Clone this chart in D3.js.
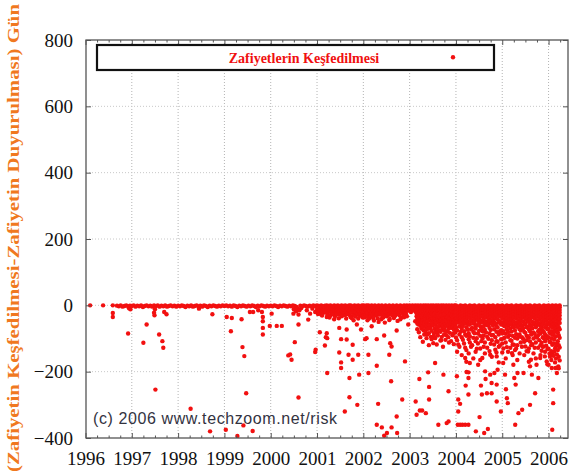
<!DOCTYPE html>
<html>
<head>
<meta charset="utf-8">
<script src="https://cdn.jsdelivr.net/npm/d3@7"></script>
<style>
body{margin:0;background:#fff}
svg{display:block}
</style>
</head>
<body>
<div class="chart"></div>
<script>
// tick labels
const yearTicks = [1996,1997,1998,1999,2000,2001,2002,2003,2004,2005,2006]
const dayTicks = [-400,-200,0,200,400,600,800]

// points per year: [hundredths of the year, days, days, ...]
const d1996 = [[10,0],[38,0],[59,0,-23,-35],[68,-1],[72,-3],[76,0],[80,-4],[84,-2],[88,0],[92,-3,-85],[94,-9],[96,-1],[97,-12]]
const d1997 = [[0,-2],[4,0],[8,-4],[12,-1],[16,-3],[20,0],[24,-5],[25,-113],[28,-2],[32,0,-58],[36,-3],[40,-1],[44,-4],[48,0,-22],[49,-30],[50,-12],[51,-254],[52,-3],[56,0],[59,-88],[60,-4],[64,-1],[66,-108],[68,-3,-128],[70,-20],[72,0],[75,-27],[76,-4],[80,-2],[84,0],[88,-3],[92,-1],[96,-4]]
const d1998 = [[0,-1],[4,-3],[8,0],[12,-2],[16,-5],[20,-1],[24,-3],[27,-312],[28,0],[32,-4],[36,-2],[40,0],[44,-3],[45,-10],[48,-1],[52,-4],[56,0],[60,-2],[64,-5],[68,-1],[69,-380],[72,-3],[74,-27],[76,0],[80,-2],[84,-4],[88,-1],[92,-3],[96,0]]
const d1999 = [[0,-2],[3,-375],[4,0],[5,-35],[8,-3],[12,-1],[14,-78],[16,-4,-38],[20,0],[24,-2],[28,-5,-394],[32,-1],[36,-3],[37,-42],[39,-126],[40,0],[41,-362],[43,-153],[44,-2],[47,-265],[48,-4],[52,-1],[55,-20],[56,-3],[60,0],[61,-379],[62,-20],[64,-2],[68,-5],[72,-1],[73,-15],[76,-3],[80,0],[81,-20],[83,-35,-48,-68,-88],[84,-2],[88,-4],[92,-1],[96,-3],[98,-62]]
const d2000 = [[0,-1],[2,-25],[4,-3],[8,0],[12,-2],[13,-62],[16,-5],[20,-1],[24,-3,-62],[28,0],[32,-2],[36,-4],[38,-151],[40,-1],[42,-148],[44,-3],[45,-164],[48,0],[49,-25],[50,-12],[52,-2,-111],[55,-18],[56,-5],[58,-10],[60,-28,-58,-278],[62,-15],[64,-1],[66,-8],[68,-3],[72,0],[76,-2],[78,-15],[80,-4],[81,-43],[84,-1],[85,-25],[88,-3],[90,-10],[92,0],[96,-2,-20,-141],[97,-134]]
const d2001 = [[0,0,-6,-14],[2,-5,-17,-26],[4,-2,-10,-20],[6,-81],[6.5,-3,-12,-24],[9,0,-7,-16,-28],[11,-6,-19,-31],[13,-3,-11],[15,-4,-14,-22],[17,-1,-8,-18,-121],[19,-7,-21,-96],[21,0,-5,-14,-35,-84],[22,-99,-204],[23,-5,-12,-28],[25,-2,-9,-19],[27,-3,-16,-37],[29,0,-6,-13,-30],[31,-8,-20],[33,-3,-10,-22],[35,-5,-13,-27],[37,0,-7,-15,-42],[39,-4,-18,-33],[41,-2,-11,-19],[43,-7,-15,-24],[45,0,-5,-13,-26],[47,-5,-20,-39],[48,-68,-142],[49,-3,-9,-18],[51,-3,-12,-27],[52,-102,-172,-189],[53,0,-6,-15,-33],[55,-6,-17,-31],[57,-2,-10,-21],[59,-4,-14,-23],[60,-320],[61,0,-7,-14,-29],[63,-8,-19,-40],[64,-73,-103],[65,-3,-11,-24],[67,-5,-12,-27],[68,-149],[69,0,-6,-16],[70,-219,-277],[71,-3,-15,-30],[73,0,-9,-20,-36],[75,-6,-22,-38],[77,-3,-12,-119,-164],[79,-4,-13,-29,-45],[81,0,-7,-17,-30],[83,-7,-19,-34],[85,-2,-10,-22],[86,-58],[87,-5,-12,-26,-300],[89,0,-6,-15,-40,-149],[91,-3,-17,-31,-209],[93,-3,-11,-24],[95,-6,-14,-24,-73],[97,0,-8,-18,-33],[99,-4,-20,-37]]
const d2002 = [[1,0,-7,-16,-31],[3,-6,-21,-36],[4,-3,-12,-102],[5.5,-4,-15,-27],[7,0,-20,-99],[9,-5,-14,-45],[9.5,-22,-34],[11,0,-9,-149,-204],[12.5,-5,-14,-40],[14,-3,-18,-28],[16,-7,-25,-33],[18,0,-10,-22,-63],[19.5,-4,-12,-29],[21,-5,-15,-38],[23,-6,-23,-46],[25,0,-8,-19],[27,-4,-16,-31],[29,-3,-12,-26,-102,-182,-360],[31,-7,-21,-39],[32,-297],[33,0,-7,-17,-50],[35,-5,-13,-28],[37,-4,-14,-24],[39,-3,-18,-42],[40,0,-9,-368],[41,-20,-35],[43,-6,-24,-37],[45,-3,-12,-91,-393],[46.5,-4,-14,-52],[48,0,-7,-18,-30],[50,-7,-20,-33],[51,-385],[52,-3,-11,-22],[54,-5,-15,-29],[56,0,-8,-44,-149],[57,-3,-25,-41],[58,-16,-114],[60,-3,-12,-25,-229],[61,-124,-368],[62,-6,-14,-30],[64,0,-7,-18],[66,-4,-22,-38],[68,-4,-13,-33],[70,-7,-15,-27],[72,0,-9,-20,-76,-335],[73,-385],[74,-5,-19,-47],[76,-3,-14,-27],[78,-3,-12,-30],[80,0,-8,-17,-42],[82,-6,-18,-37],[84,-4,-11,-22,-284],[86,-4,-14,-26],[88,0,-9,-19,-36],[90,-7,-21,-169],[92,-3,-13,-25],[94,0,-8,-33],[95,-5,-13],[97,-4,-16,-58],[99,-3,-10]]
const d2003 = [[0,0,-7,-15],[3,-3,-11,-20],[6,0,-8],[9,-4,-14],[12,0,-7,-18,-48],[13,-290],[15,-2,-10,-24,-33,-330],[16.5,-38,-55,-72],[18,0,-8,-16,-28,-40],[19,-58],[20,-47,-81],[21,-4,-12,-22,-36,-222],[22,-317],[23,-41,-58,-96],[24,0,-7,-17,-30,-45,-62],[25.5,-27,-49,-70],[27,-3,-11,-21,-34,-52,-317],[28.5,-44,-63,-110],[30,0,-8,-16,-27,-41,-75],[31.5,-33,-56,-88],[33,-4,-12,-23,-36,-50],[34,-42,-78],[35,0,-7,-18,-30,-66,-325],[36.5,-25,-51,-62,-99],[38,-3,-13,-25,-40,-88],[39,-46,-71],[40,0,-9,-19,-33,-202],[41.5,-38,-57,-84,-120],[42,-246,-284],[43,-4,-14,-27,-46,-60],[44.5,-35,-69],[46,0,-8,-18,-31,-42,-95],[47.5,-50,-77,-102],[49,-3,-12,-24,-37,-55],[50,-40,-61],[51,0,-7,-17,-29,-114],[52.5,-47,-85,-93],[54,-4,-14,-25,-39,-70],[55,-99,-174],[56,-42,-58,-78],[57,0,-9,-19,-32,-48],[58.5,-52,-66,-118],[60,-3,-12,-22,-35,-82],[61,-39,-72,-91],[62,0,-8,-17,-28,-44,-360],[63.5,-50,-63],[65,-4,-13,-24,-37,-58],[66.5,-45,-80,-106],[68,0,-7,-18,-30,-41,-105],[69.5,-56,-74,-95],[71,-3,-11,-21,-34,-50,-66],[72,-38,-61,-125],[73,0,-9,-19,-28,-209],[74.5,-49,-68,-88],[76,-4,-13,-25,-38,-77],[77.5,-44,-57,-104],[79,0,-8,-17,-31,-46,-90],[80,-355],[80.5,-36,-62,-79],[82,-3,-12,-22,-35,-52],[83.5,-59,-71,-96],[84,-259,-350],[85,0,-7,-19,-29,-42,-112],[86.5,-48,-83],[88,-4,-14,-26,-40,-61],[89.5,-55,-68,-108],[91,0,-9,-18,-32,-47],[92.5,-41,-64,-90],[94,-3,-12,-23,-36,-55,-85],[95.5,-50,-73,-117],[97,0,-8,-20,-30,-44],[98.5,-58,-82]]
const d2004 = [[0,0,-7,-14,-22,-30,-41,-66,-97],[2,-214],[2.5,-48,-75,-105,-140],[4,-360],[5,-3,-10,-18,-26,-35,-52,-118,-284,-320],[7.5,-42,-63,-88,-125],[9,-297,-360],[10,0,-6,-13,-21,-29,-38,-47,-80],[12.5,-55,-70,-96,-150],[14,-360],[15,-2,-9,-17,-25,-33,-44,-62,-104],[17.5,-50,-78,-115],[20,0,-7,-15,-23,-31,-40,-55,-88,-128,-159,-360],[21,-242],[22.5,-46,-66,-92,-135,-170],[23,-201],[25,-3,-11,-19,-27,-36,-49,-73],[27,-202,-219,-269,-360],[27.5,-58,-84,-102,-145],[30,0,-6,-14,-22,-30,-39,-58,-93,-112,-174],[32.5,-48,-72,-125],[35,-2,-10,-18,-26,-34,-45,-68,-120],[37.5,-55,-80,-98,-160],[40,0,-7,-15,-23,-32,-42,-51,-84],[42.5,-62,-70,-108,-140],[43,-380],[45,-3,-11,-19,-28,-37,-60,-99,-131],[47.5,-45,-85,-115],[48,-179],[50,0,-6,-14,-22,-31,-40,-53,-77],[51,-337],[52.5,-63,-92,-130,-165],[54,-242],[55,-2,-9,-17,-25,-34,-46,-70,-108],[56,-269],[57,-159],[57.5,-52,-78,-100],[60,0,-7,-15,-24,-33,-43,-64,-91,-125],[61,-385],[62.5,-55,-74,-112,-145],[63,-199],[64,-222],[65,-3,-10,-18,-27,-36,-50,-82],[67,-265],[67.5,-60,-95,-128],[69,-373],[70,0,-6,-14,-22,-30,-41,-57,-101],[72.5,-48,-68,-85,-138],[74,-149,-209],[75,-2,-9,-17,-25,-35,-47,-74,-116],[77,-234,-265],[77.5,-56,-90,-105,-155],[80,0,-7,-15,-23,-32,-44,-61,-89],[82.5,-50,-72,-118],[83,-204],[85,-3,-11,-19,-28,-38,-54,-96,-134],[87.5,-62,-80,-108,-142],[88,-154,-239,-290],[90,0,-6,-14,-22,-31,-42,-67,-110,-194],[92.5,-52,-88,-125,-172],[95,-2,-10,-18,-26,-34,-48,-79,-121],[97,-320],[97.5,-58,-75,-102]]
const d2005 = [[0,0,-7,-15,-23,-31,-40,-52,-85,-115,-142],[2,-174],[2.5,-60,-78,-100,-130],[5,-3,-10,-18,-26,-35,-46,-63,-98],[6,-209],[7.5,-55,-86,-112,-160],[8,-253],[10,0,-6,-14,-22,-30,-39,-50,-72,-126,-280],[12,-295],[12.5,-62,-80,-95,-140],[15,-2,-9,-17,-25,-34,-44,-58,-90],[17.5,-52,-70,-105,-128],[20,0,-7,-15,-24,-32,-42,-55,-79,-107],[21,-144],[22.5,-63,-92,-118,-150],[24,-179],[25,-3,-11,-19,-27,-36,-48,-66,-119],[26,-219],[27.5,-58,-76,-98,-135],[28,-360],[29,-239],[30,0,-6,-14,-22,-31,-40,-53,-87,-130],[32.5,-65,-100,-120,-165],[33,-204],[35,-2,-10,-18,-26,-34,-45,-61,-95,-325],[37.5,-52,-72,-88,-145],[40,0,-7,-15,-23,-32,-43,-57,-76,-112],[42.5,-64,-96,-125],[43,-315],[45,-3,-11,-19,-28,-37,-49,-70,-101],[46,-204],[47.5,-58,-80,-110,-150],[50,0,-6,-14,-22,-30,-41,-54,-83,-124],[52.5,-66,-92,-105,-138],[55,-2,-9,-17,-25,-35,-46,-64,-93],[56,-139],[57.5,-50,-72,-98,-130,-170],[60,0,-7,-15,-24,-33,-42,-59,-78,-109,-184,-300],[62,-164],[62.5,-64,-88,-120],[64,-209],[65,-3,-10,-18,-27,-36,-50,-69,-117],[67.5,-57,-82,-100,-145],[70,0,-6,-14,-22,-31,-40,-52,-86,-128],[71,-265],[72.5,-66,-95,-112,-160],[74,-179],[75,-2,-9,-17,-25,-34,-45,-60,-97],[77.5,-54,-78,-90,-128],[78,-219],[80,0,-7,-15,-23,-32,-43,-56,-74,-105],[82,-159],[82.5,-62,-85,-120,-150],[85,-3,-11,-19,-28,-37,-48,-67,-113,-137],[87.5,-58,-76,-96,-125],[89,-124],[90,0,-6,-14,-22,-30,-41,-53,-81,-99],[92,-154],[92.5,-66,-88,-108,-140],[95,-2,-10,-18,-26,-35,-46,-62,-92,-122],[96,-169],[97.5,-55,-72,-100,-132,-178]]
const d2006 = [[0,0,-7,-15,-23,-31,-40,-52,-71,-96,-131,-179],[2,-58,-82,-110,-145],[3,-154],[4,-3,-10,-18,-27,-36,-47,-60,-84,-111],[6,-64,-78,-100,-138,-165],[7,-189],[8,0,-6,-14,-22,-30,-39,-51,-66,-89,-119,-148,-375],[10,-56,-86,-115,-152,-254,-295],[12,-2,-9,-17,-25,-34,-44,-57,-76,-103,-140],[14,-62,-80,-95,-130,-172],[15,-189],[16,0,-7,-15,-24,-32,-42,-54,-69,-93,-124,-160],[18,-58,-76,-115,-148,-204],[20,-3,-11,-19,-28,-37,-49,-63,-82,-108,-135],[21,-184],[22,-66,-90,-120,-155,-190],[24,0,-6,-14,-22,-31,-41,-53,-72,-98,-127,-166]]

const seriesName = "Zafiyetlerin Keşfedilmesi"
const yTitle = "(Zafiyetin Keşfedilmesi-Zafiyetin Duyurulması) Gün"
const serif = "Liberation Serif"

const yearCols = [[1996,d1996],[1997,d1997],[1998,d1998],[1999,d1999],[2000,d2000],[2001,d2001],[2002,d2002],[2003,d2003],[2004,d2004],[2005,d2005],[2006,d2006]]
const data = []
yearCols.forEach(([yr, cols]) => {
    cols.forEach(c => {
        c.slice(1).forEach(v => data.push({date: yr + c[0]/100, days: v}))
    })
})

const width = 570, height = 476
const plot = {left: 86, right: 568, top: 40, bottom: 438}

const svg = d3.select(".chart").append("svg")
    .attr("width", width)
    .attr("height", height)

let xScale = d3.scaleLinear().domain([1996, 2006.42]).range([85.5, plot.right])
let yScale = d3.scaleLinear().domain([-400, 800]).range([plot.bottom, plot.top])

// dotted grid
svg.append("g").selectAll("line")
    .data(yearTicks.slice(1))
    .enter().append("line")
    .attr("x1", d => xScale(d)).attr("x2", d => xScale(d))
    .attr("y1", plot.top).attr("y2", plot.bottom)
    .attr("stroke", "#b4b4b4")
    .attr("stroke-dasharray", "1,2")

svg.append("g").selectAll("line")
    .data(dayTicks.slice(1, -1))
    .enter().append("line")
    .attr("x1", plot.left).attr("x2", plot.right)
    .attr("y1", d => yScale(d)).attr("y2", d => yScale(d))
    .attr("stroke", "#c8c8c8")
    .attr("stroke-dasharray", "1,2")

// points
svg.append("clipPath").attr("id", "clip")
    .append("rect").attr("x", plot.left).attr("y", plot.top)
    .attr("width", plot.right - plot.left).attr("height", plot.bottom - plot.top)

svg.append("g")
    .attr("clip-path", "url(#clip)")
    .selectAll("circle")
    .data(data)
    .enter().append("circle")
    .attr("cx", d => xScale(d.date))
    .attr("cy", d => yScale(d.days))
    .attr("r", 2.2)
    .attr("fill", "#f21010")

// axes, ticks pointing inward
const quarters = []
for (let yr = 1996; yr <= 2006; yr++) [0.25, 0.5, 0.75].forEach(q => quarters.push(yr + q))

const tickStyle = g => {
    g.select(".domain").remove()
    g.attr("font-family", serif).attr("font-size", 19)
    g.selectAll(".tick line").attr("stroke", "#555")
    g.selectAll("text").attr("fill", "#111")
}

svg.append("g")
    .attr("transform", `translate(0,${plot.bottom})`)
    .call(d3.axisBottom(xScale).tickValues(yearTicks).tickSizeInner(-5).tickSizeOuter(0).tickPadding(13.5).tickFormat(d3.format("d")))
    .call(tickStyle)
svg.append("g")
    .attr("transform", `translate(0,${plot.bottom})`)
    .call(d3.axisBottom(xScale).tickValues(quarters).tickSizeInner(-2.5).tickSizeOuter(0).tickFormat(""))
    .call(tickStyle)
svg.append("g")
    .attr("transform", `translate(0,${plot.top})`)
    .call(d3.axisTop(xScale).tickValues(yearTicks).tickSizeInner(-5).tickSizeOuter(0).tickFormat(""))
    .call(tickStyle)
svg.append("g")
    .attr("transform", `translate(0,${plot.top})`)
    .call(d3.axisTop(xScale).tickValues(quarters).tickSizeInner(-2.5).tickSizeOuter(0).tickFormat(""))
    .call(tickStyle)
svg.append("g")
    .attr("transform", `translate(${plot.left},0)`)
    .call(d3.axisLeft(yScale).tickValues(dayTicks).tickSizeInner(-5).tickSizeOuter(0).tickPadding(13))
    .call(tickStyle)
svg.append("g")
    .attr("transform", `translate(${plot.right},0)`)
    .call(d3.axisRight(yScale).tickValues(dayTicks).tickSizeInner(-5).tickSizeOuter(0).tickFormat(""))
    .call(tickStyle)

// frame
svg.append("rect")
    .attr("x", plot.left).attr("y", plot.top)
    .attr("width", plot.right - plot.left).attr("height", plot.bottom - plot.top)
    .attr("fill", "none")
    .attr("stroke", "#555")
    .attr("stroke-width", 1.3)

// legend
svg.append("rect")
    .attr("x", 97).attr("y", 45)
    .attr("width", 397).attr("height", 25)
    .attr("fill", "#fff")
    .attr("stroke", "#111")
    .attr("stroke-width", 2.2)
svg.append("text")
    .attr("x", 304).attr("y", 62.5)
    .attr("text-anchor", "middle")
    .attr("font-family", serif)
    .attr("font-weight", "bold")
    .attr("font-size", 14)
    .attr("fill", "#f01010")
    .text(seriesName)
svg.append("circle")
    .attr("cx", 453).attr("cy", 57.3).attr("r", 2.2)
    .attr("fill", "#f21010")

// watermark
svg.append("text")
    .attr("x", 93).attr("y", 424)
    .attr("font-family", "Liberation Sans")
    .attr("font-size", 16)
    .attr("textLength", 244)
    .attr("fill", "#33333f")
    .text("(c) 2006 www.techzoom.net/risk")

// y title
svg.append("text")
    .attr("transform", "translate(19,238) rotate(-90)")
    .attr("text-anchor", "middle")
    .attr("font-family", serif)
    .attr("font-weight", "bold")
    .attr("font-size", 17)
    .attr("textLength", 468)
    .attr("lengthAdjust", "spacingAndGlyphs")
    .attr("fill", "#f07820")
    .text(yTitle)
</script>
</body>
</html>
